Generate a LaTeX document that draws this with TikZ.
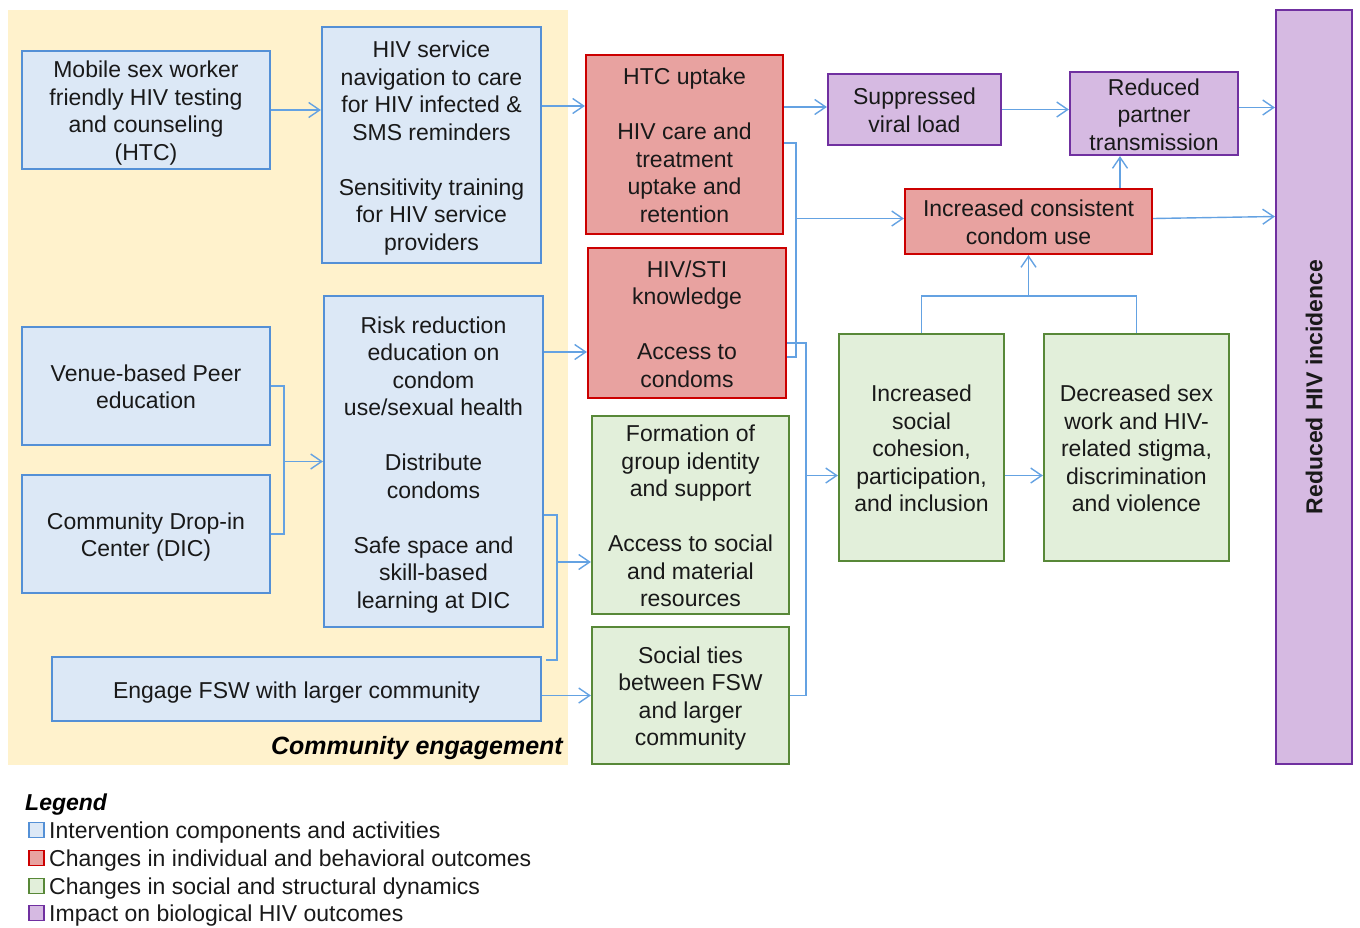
\documentclass[tikz,border=0pt]{standalone}
\usepackage{fontspec}
\setmainfont{Liberation Sans}
\usetikzlibrary{arrows.meta,calc}
\definecolor{bgyel}{RGB}{255,242,204}
\definecolor{bluefill}{RGB}{220,232,246}
\definecolor{bluebd}{RGB}{84,144,214}
\definecolor{conn}{RGB}{100,162,226}
\definecolor{redfill}{RGB}{232,162,160}
\definecolor{redbd}{RGB}{204,0,0}
\definecolor{greenfill}{RGB}{226,239,218}
\definecolor{greenbd}{RGB}{88,136,56}
\definecolor{purpfill}{RGB}{214,186,226}
\definecolor{purpbd}{RGB}{112,48,160}
\definecolor{txt}{RGB}{25,25,25}
\newcommand{\boxstrut}{\rule[-5pt]{0pt}{26.5pt}}
\newcommand{\bt}[1]{\raisebox{-3.5pt}[\height][\depth]{\begin{tabular}{@{}c@{}}#1\end{tabular}}}
\tikzset{
  x=1pt,y=-1pt,
  box/.style={draw,line width=2.2pt,inner sep=0pt,text=txt,
    font=\fontsize{23}{27.5}\selectfont},
  bbox/.style={box,fill=bluefill,draw=bluebd},
  rbox/.style={box,fill=redfill,draw=redbd},
  gbox/.style={box,fill=greenfill,draw=greenbd},
  pbox/.style={box,fill=purpfill,draw=purpbd},
  wire/.style={draw=conn,line width=1.4pt},
  arr/.style={wire,-{Straight Barb[length=11pt,width=15pt,line width=1.4pt]}},
  legsq/.style={draw,line width=1.6pt,minimum width=15pt,minimum height=15pt,inner sep=0pt},
  legtxt/.style={anchor=west,inner sep=0pt,text=txt,font=\fontsize{23}{27.5}\selectfont,
    execute at begin node=\boxstrut},
}
\begin{document}
\begin{tikzpicture}
\useasboundingbox (0,0) rectangle (1360,927);
\fill[bgyel] (8,10) rectangle (568,765);

% intervention boxes
\node[bbox,minimum width=248,minimum height=118] (A) at (146,110)
  {\bt{Mobile sex worker\\friendly HIV testing\\and counseling\\(HTC)}};
\node[bbox,minimum width=219,minimum height=236] (B) at (431.5,145)
  {\bt{HIV service\\navigation to care\\for HIV infected \&\\SMS reminders\\[27.5pt]Sensitivity training\\for HIV service\\providers}};
\node[bbox,minimum width=248,minimum height=118] (C) at (146,386)
  {\bt{Venue-based Peer\\education}};
\node[bbox,minimum width=248,minimum height=118] (D) at (146,534)
  {\bt{Community Drop-in\\Center (DIC)}};
\node[bbox,minimum width=219,minimum height=331] (E) at (433.5,461.5)
  {\bt{Risk reduction\\education on\\condom\\use/sexual health\\[27.5pt]Distribute\\condoms\\[27.5pt]Safe space and\\skill-based\\learning at DIC}};
\node[bbox,minimum width=489,minimum height=64] (F) at (296.5,689)
  {\bt{Engage FSW with larger community}};
\node[anchor=east,inner sep=0pt,text=black,font=\fontsize{25}{27.5}\selectfont\bfseries\itshape,
  execute at begin node=\boxstrut] (CE) at (563,746) {Community engagement};

% individual outcomes
\node[rbox,minimum width=197,minimum height=179] (R1) at (684.5,144.5)
  {\bt{HTC uptake\\[27.5pt]HIV care and\\treatment\\uptake and\\retention}};
\node[rbox,minimum width=198,minimum height=150] (R2) at (687,323)
  {\bt{HIV/STI\\knowledge\\[27.5pt]Access to\\condoms}};
\node[rbox,minimum width=247,minimum height=65] (R3) at (1028.5,221.5)
  {\bt{Increased consistent\\condom use}};

% social outcomes
\node[gbox,minimum width=197,minimum height=198] (G1) at (690.5,515)
  {\bt{Formation of\\group identity\\and support\\[27.5pt]Access to social\\and material\\resources}};
\node[gbox,minimum width=197,minimum height=137] (G2) at (690.5,695.5)
  {\bt{Social ties\\between FSW\\and larger\\community}};
\node[gbox,minimum width=165,minimum height=227] (G3) at (921.5,447.5)
  {\bt{Increased\\social\\cohesion,\\participation,\\and inclusion}};
\node[gbox,minimum width=185,minimum height=227] (G4) at (1136.5,447.5)
  {\bt{Decreased sex\\work and HIV-\\related stigma,\\discrimination\\and violence}};

% biological
\node[pbox,minimum width=173,minimum height=71] (P1) at (914.5,109.5)
  {\bt{Suppressed\\viral load}};
\node[pbox,minimum width=168,minimum height=83] (P2) at (1154,113.5)
  {\bt{Reduced\\partner\\transmission}};
\node[pbox,minimum width=76,minimum height=754] (BIG) at (1314,387) {};
\node[rotate=90,inner sep=0pt,text=txt,font=\fontsize{23}{27.5}\selectfont\bfseries,
  execute at begin node=\boxstrut] (BIGT) at (BIG.center) {Reduced HIV incidence};

% connectors
\draw[arr] (A.east) -- (A.east -| B.west);
\coordinate (b1) at ([yshift=39pt]B.east);
\draw[arr] (b1) -- (b1 -| R1.west);
\coordinate (r1p) at ([yshift=2.5pt]P1.west);
\draw[arr] (r1p -| R1.east) -- (r1p);
\draw[arr] (P1.east) -- (P1.east -| P2.west);
\coordinate (p2o) at ([yshift=6pt]P2.east);
\draw[arr] (p2o) -- (p2o -| BIG.west);
\coordinate (r3o) at ([yshift=5pt]R3.east);
\draw[arr] ([yshift=3pt]R3.east) -- (r3o -| BIG.west);
\coordinate (r3n) at ([xshift=91.5pt]R3.north);
\draw[arr] (r3n) -- (r3n |- P2.south);

% bracket R1/R2 -> R3
\coordinate (r1o) at ([yshift=1.5pt]R1.east);
\coordinate (r2o) at ([yshift=-34pt]R2.east);
\coordinate (v1) at ([xshift=12pt]r1o);
\draw[wire] (r1o) -- (v1) |- (r2o);
\coordinate (r3w) at ([yshift=3pt]R3.west);
\draw[arr] (r3w -| v1) -- (r3w);

% bracket R2/G2 -> G3
\coordinate (r2b) at ([yshift=-20pt]R2.east);
\coordinate (v2) at ([xshift=19pt]r2b);
\draw[wire] (r2b) -- (v2) |- (G2.east);
\coordinate (g3a) at ([yshift=-28pt]G3.west);
\draw[arr] (g3a -| v2) -- (g3a);
\draw[arr] (g3a -| G3.east) -- (g3a -| G4.west);

% G3, G4 -> R3
\coordinate (h) at ([yshift=37pt]G3.north);
\draw[wire] (G3.north) -- (h) -| (G4.north);
\draw[arr] (h -| R3.south) -- (R3.south);

% C/D -> E
\coordinate (v3) at ([xshift=13pt]C.east);
\draw[wire] (C.east) -- (v3) |- (D.east);
\draw[arr] (E.west -| v3) -- (E.west);

% E -> R2
\coordinate (e1) at ([yshift=109.5pt]E.east);
\draw[arr] (e1) -- (e1 -| R2.west);

% E/F -> G1
\coordinate (e2) at ([yshift=-53.5pt]E.east);
\coordinate (f1) at ([xshift=4pt,yshift=-4pt]F.north east);
\coordinate (v4) at ([xshift=13pt]e2);
\draw[wire] (e2) -- (v4) |- (f1);
\coordinate (g1a) at ([yshift=-47pt]G1.west);
\draw[arr] (g1a -| v4) -- (g1a);

% F -> G2
\draw[arr] (G2.west -| F.east) -- (G2.west);

% legend
\node[anchor=west,inner sep=0pt,text=black,font=\fontsize{23}{27.5}\selectfont\bfseries\itshape,
  execute at begin node=\boxstrut] (LG) at (25,802) {Legend};
\node[legsq,fill=bluefill,draw=bluebd] (L1) at (36.5,830) {};
\node[legtxt] (L1t) at (49,830) {Intervention components and activities};
\node[legsq,fill=redfill,draw=redbd] (L2) at (36.5,858) {};
\node[legtxt] (L2t) at (49,858) {Changes in individual and behavioral outcomes};
\node[legsq,fill=greenfill,draw=greenbd] (L3) at (36.5,886) {};
\node[legtxt] (L3t) at (49,886) {Changes in social and structural dynamics};
\node[legsq,fill=purpfill,draw=purpbd] (L4) at (36.5,913) {};
\node[legtxt] (L4t) at (49,913) {Impact on biological HIV outcomes};
\end{tikzpicture}
\end{document}
